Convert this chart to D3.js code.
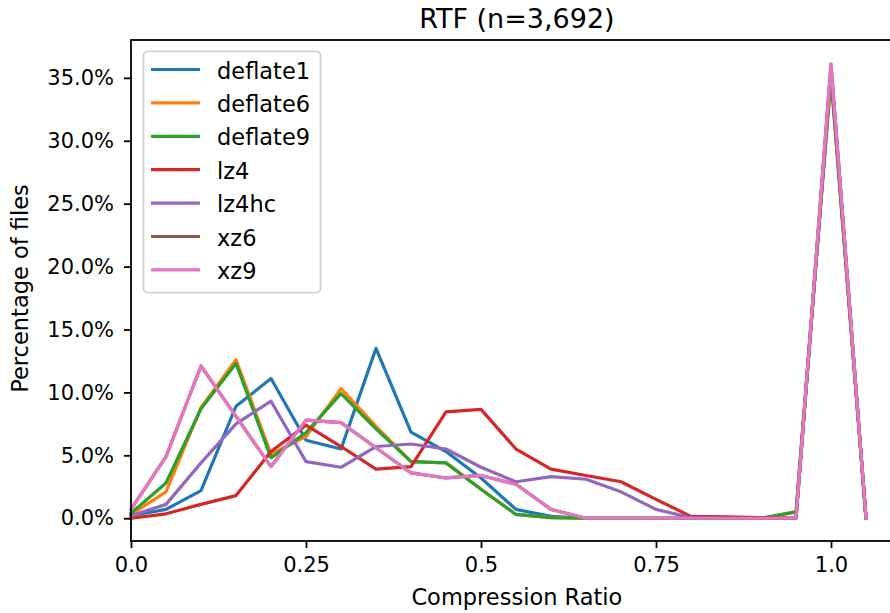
<!DOCTYPE html>
<html>
<head>
<meta charset="utf-8">
<script src="https://cdn.jsdelivr.net/npm/d3@7"></script>
<style>
  body { margin: 0; background: #fff; }
  text { font-family: "DejaVu Sans", sans-serif; fill: #000; }
</style>
</head>
<body>
<div id="chart"></div>
<script>
// compression ratio bins
const ratios = [0, 0.05, 0.1, 0.15, 0.2, 0.25, 0.3, 0.35, 0.4, 0.45, 0.5, 0.55,
                0.6, 0.65, 0.7, 0.75, 0.8, 0.85, 0.9, 0.95, 1.0, 1.05];

// percentage of files per bin
const deflate1 = [0.2, 0.7, 2.2, 8.9, 11.1, 6.2, 5.5, 13.5, 6.85, 5.3, 3.2, 0.7,
                  0.15, 0, 0, 0, 0, 0, 0, 0, 35.6, 0];
const deflate6 = [0.3, 2.1, 8.8, 12.6, 5.1, 6.5, 10.3, 7.3, 4.5, 4.4, 2.3, 0.3,
                  0.05, 0, 0, 0, 0, 0, 0, 0.5, 35.0, 0];
const deflate9 = [0.4, 2.8, 8.7, 12.3, 4.8, 6.8, 9.9, 7.1, 4.5, 4.4, 2.3, 0.3,
                  0.05, 0, 0, 0, 0, 0, 0, 0.5, 35.1, 0];
const lz4 = [0, 0.35, 1.1, 1.8, 5.3, 7.4, 5.7, 3.9, 4.1, 8.45, 8.65, 5.5,
             3.9, 3.4, 2.9, 1.5, 0.15, 0.1, 0.05, 0, 35.7, 0];
const lz4hc = [0.2, 1.1, 4.4, 7.5, 9.3, 4.5, 4.05, 5.7, 5.9, 5.5, 4.05, 2.9,
               3.3, 3.1, 2.1, 0.7, 0.05, 0, 0, 0, 35.6, 0];
const xz6 = [0.7, 4.9, 12.1, 8.1, 4.1, 7.8, 7.6, 5.6, 3.6, 3.2, 3.4, 2.7,
             0.7, 0, 0, 0, 0, 0, 0, 0, 36.1, 0];
const xz9 = [0.7, 4.9, 12.1, 8.1, 4.1, 7.8, 7.6, 5.6, 3.6, 3.2, 3.4, 2.7,
             0.7, 0, 0, 0, 0, 0, 0, 0, 36.1, 0];

const seriesNames = ["deflate1", "deflate6", "deflate9", "lz4", "lz4hc", "xz6", "xz9"];
const seriesValues = [deflate1, deflate6, deflate9, lz4, lz4hc, xz6, xz9];
const colors = ["#1f77b4", "#ff7f0e", "#2ca02c", "#d62728", "#9467bd", "#8c564b", "#e377c2"];

const xTicks = [0, 0.25, 0.5, 0.75, 1.0];
const xTickLabels = ["0.0", "0.25", "0.5", "0.75", "1.0"];
const yTicks = [0, 5, 10, 15, 20, 25, 30, 35];

const width = 890, height = 613;
const plotLeft = 131, plotRight = 902.75, plotTop = 40, plotBottom = 541;

const svg = d3.select("#chart").append("svg")
  .attr("width", width)
  .attr("height", height);

// x domain follows matplotlib: left pinned at 0, right padded 5%
const x = d3.scaleLinear().domain([0, 1.1025]).range([plotLeft, plotRight]);
const y = d3.scaleLinear().domain([-1.81, 38.01]).range([plotBottom, plotTop]);

svg.append("text")
  .attr("x", (plotLeft + plotRight) / 2)
  .attr("y", 28)
  .attr("text-anchor", "middle")
  .style("font-size", "27px")
  .text("RTF (n=3,692)");

const plot = svg.append("g");

const line = d3.line()
  .x((d, i) => x(ratios[i]))
  .y(d => y(d));

plot.selectAll("path.series")
  .data(seriesValues)
  .enter()
  .append("path")
  .attr("class", "series")
  .attr("d", d => line(d))
  .attr("fill", "none")
  .attr("stroke", (d, i) => colors[i])
  .attr("stroke-width", 3.2)
  .attr("stroke-linejoin", "round")
  .attr("stroke-linecap", "square");

// axes
const xAxis = d3.axisBottom(x)
  .tickValues(xTicks)
  .tickFormat((d, i) => xTickLabels[i])
  .tickSize(7)
  .tickPadding(9.5);
const yAxis = d3.axisLeft(y)
  .tickValues(yTicks)
  .tickFormat(d => d.toFixed(1) + "%")
  .tickSize(7)
  .tickPadding(10);

const gx = svg.append("g").attr("transform", `translate(0,${plotBottom})`).call(xAxis);
const gy = svg.append("g").attr("transform", `translate(${plotLeft},0)`).call(yAxis);
[gx, gy].forEach(g => {
  g.select(".domain").remove();
  g.selectAll(".tick line").attr("stroke", "#000").attr("stroke-width", 1.8);
  g.selectAll(".tick text").style("font-size", "21px").attr("fill", "#000");
});

// spines
svg.append("rect")
  .attr("x", plotLeft)
  .attr("y", plotTop)
  .attr("width", plotRight - plotLeft)
  .attr("height", plotBottom - plotTop)
  .attr("fill", "none")
  .attr("stroke", "#000")
  .attr("stroke-width", 1.8);

svg.append("text")
  .attr("x", (plotLeft + plotRight) / 2)
  .attr("y", 605)
  .attr("text-anchor", "middle")
  .style("font-size", "22.5px")
  .text("Compression Ratio");

svg.append("text")
  .attr("transform", `translate(28,${(plotTop + plotBottom) / 2 - 2}) rotate(-90)`)
  .attr("text-anchor", "middle")
  .style("font-size", "22.5px")
  .text("Percentage of files");

// legend
const legend = svg.append("g");
legend.append("rect")
  .attr("x", 143.5)
  .attr("y", 51.5)
  .attr("width", 177)
  .attr("height", 241)
  .attr("rx", 4)
  .attr("fill", "#fff")
  .attr("fill-opacity", 0.8)
  .attr("stroke", "#cccccc")
  .attr("stroke-width", 1.6);

const items = legend.selectAll("g.item")
  .data(seriesNames)
  .enter()
  .append("g")
  .attr("class", "item")
  .attr("transform", (d, i) => `translate(0,${69.5 + i * 33.4})`);
items.append("line")
  .attr("x1", 151).attr("x2", 200)
  .attr("stroke", (d, i) => colors[i])
  .attr("stroke-width", 3.2);
items.append("text")
  .attr("x", 217)
  .attr("y", 9)
  .style("font-size", "22.5px")
  .text(d => d);
</script>
</body>
</html>
